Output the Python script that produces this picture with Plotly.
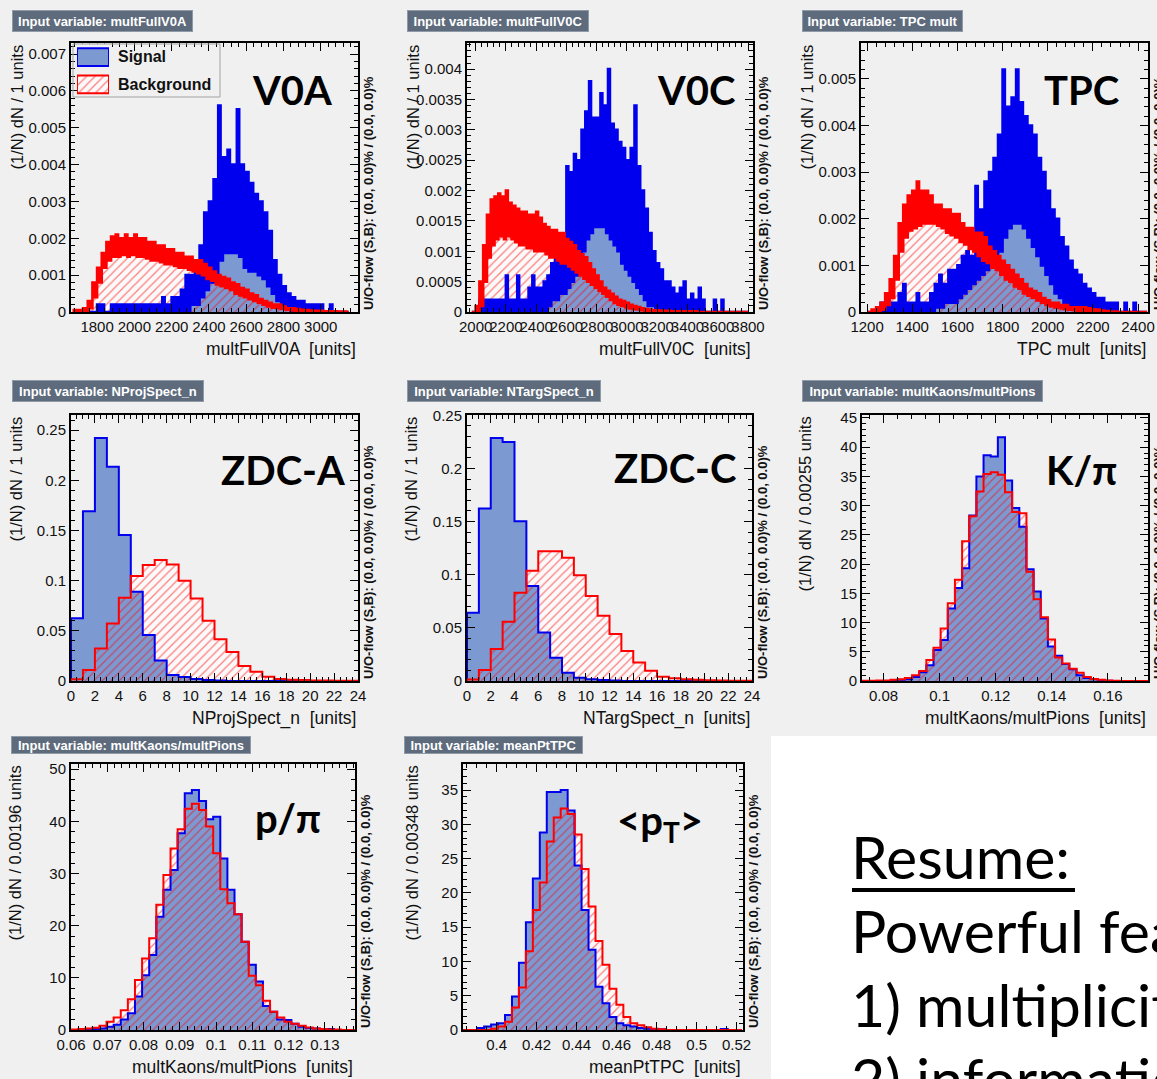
import numpy as np
import plotly.graph_objects as go

W, H = 1157, 1079

# ----------------------------------------------------------------------
# Fine-binned multiplicity inputs. Each cell stores the lowest and the
# highest bin content found inside it (values in units of 1e-4).
# ----------------------------------------------------------------------
v0a_x0, v0a_cell = 1675, 25
v0a_sig_max = [0, 0, 0, 0, 0, 2, 2, 0, 2, 2, 2, 2, 2, 2, 2, 2, 2, 2, 2, 4,
               2, 4, 4, 6, 10, 10, 14, 18, 27, 30, 36, 56, 42, 44, 40, 55, 40, 38, 35, 32,
               30, 27, 22, 14, 10, 7, 5, 4, 3, 3, 2, 2, 2, 2, 0, 2, 0, 0, 0]
v0a_sig_min = [0, 0, 0, 0, 0, 0, 0, 0, 0, 0, 0, 0, 0, 0, 0, 0, 0, 0, 0, 0,
               0, 0, 0, 0, 0, 2, 2, 4, 6, 8, 10, 14, 16, 16, 16, 15, 12, 11, 11, 10,
               9, 7, 5, 3, 2, 1, 0, 0, 0, 0, 0, 0, 0, 0, 0, 0, 0, 0, 0]
v0a_bkg_max = [0.5, 0.5, 1, 3, 8, 12, 16, 19, 20.5, 21, 20, 21, 20, 21, 20, 20, 19, 19, 18, 18,
               17, 17, 16, 16, 15, 15, 14, 14, 13, 12, 11, 10, 9.5, 9, 8, 7.5, 6.5, 6, 5, 4.5,
               3.5, 3, 2.5, 2, 2, 1.5, 1, 1, 0.8, 0.6, 0.5, 0.4, 0.3, 0.3, 0.2, 0.2, 0.2, 0.1, 0.1]
v0a_bkg_min = [0, 0, 0.3, 1, 4, 8, 12, 14, 15, 15, 15.5, 15, 15.5, 15, 15, 14.5, 14, 14, 13.5, 13,
               13, 12.5, 12, 12, 11.5, 11, 10.5, 10, 9, 8.5, 7.5, 7, 6.5, 6, 5, 4.5, 4, 3.5, 3, 2.5,
               2, 1.5, 1.2, 1, 0.8, 0.6, 0.4, 0.3, 0.2, 0.1, 0.1, 0, 0, 0, 0, 0, 0, 0, 0]

v0c_x0, v0c_cell = 1975, 25
v0c_sig_max = [0, 0, 2, 2, 2, 2, 2, 2, 2, 6, 2, 2, 6, 2, 2, 4, 6, 4, 4, 5,
               6, 8, 9, 10, 10, 24, 23, 26, 25, 30, 33, 38, 32, 32, 36, 34, 40, 31, 30, 28,
               27, 25, 27, 34, 24, 20, 17, 13, 10, 8, 7, 5, 5, 4, 3, 4, 5, 2, 3, 2,
               4, 2, 0, 0, 2, 0, 2, 0, 0, 0, 0, 0, 0]
v0c_sig_min = [0, 0, 0, 0, 0, 0, 0, 0, 0, 0, 0, 0, 0, 0, 0, 0, 0, 0, 0, 0,
               1, 2, 2, 3, 3, 4, 5, 6, 8, 10, 12, 13, 14, 14, 14, 13, 12, 11, 10, 8,
               7, 6, 5, 4, 3, 2, 1, 1, 0, 0, 0, 0, 0, 0, 0, 0, 0, 0, 0, 0,
               0, 0, 0, 0, 0, 0, 0, 0, 0, 0, 0, 0, 0]
v0c_bkg_max = [0, 1, 5, 11, 16, 18.5, 19, 19.5, 19, 20, 18, 17.5, 17, 16.5, 16.5, 16, 16, 16.5, 15.5, 14.5,
               14, 13.5, 13.5, 13, 13, 12, 11.5, 11, 10, 9.5, 9, 8, 7, 6, 5, 4, 3.5, 3, 2.5, 2,
               1.8, 1.5, 1.2, 1, 0.8, 0.6, 0.5, 0.4, 0.3, 0.3, 0.2, 0.2, 0.2, 0.1, 0.1, 0.1, 0.1, 0.1, 0.1, 0.1,
               0, 0, 0, 0, 0, 0, 0, 0, 0, 0, 0, 0, 0]
v0c_bkg_min = [0, 0, 1, 5, 9, 11, 12, 12.5, 12, 12.5, 12, 11.5, 11, 11, 10.5, 10.5, 10, 10, 10, 9.5,
               9, 9, 8.5, 8, 8, 7.5, 7, 6.5, 6, 5.5, 5, 4.5, 4, 3.5, 3, 2.5, 2, 1.5, 1.2, 1,
               0.8, 0.6, 0.5, 0.4, 0.3, 0.2, 0.2, 0.1, 0.1, 0, 0, 0, 0, 0, 0, 0, 0, 0, 0, 0,
               0, 0, 0, 0, 0, 0, 0, 0, 0, 0, 0, 0, 0]

tpc_x0, tpc_cell = 1200, 20
tpc_sig_max = [0, 0, 0, 2, 2, 2, 2, 4, 6, 2, 2, 4, 2, 2, 4, 6, 8, 6, 9, 9,
               10, 12, 13, 12, 27, 22, 28, 30, 33, 38, 52, 44, 46, 52, 45, 42, 40, 38, 33, 30,
               26, 22, 20, 16, 14, 11, 9, 8, 6, 5, 4, 3, 3, 2, 2, 2, 0, 2, 0, 2, 0, 0]
tpc_sig_min = [0, 0, 0, 0, 0, 0, 0, 0, 0, 0, 0, 0, 0, 0, 0, 1, 1, 2, 2, 2,
               3, 4, 5, 6, 7, 8, 9, 10, 11, 13, 16, 18, 19, 19, 18, 16, 14, 12, 10, 8,
               6, 4, 3, 2, 1, 1, 0, 0, 0, 0, 0, 0, 0, 0, 0, 0, 0, 0, 0, 0, 0, 0]
tpc_bkg_max = [0, 0.5, 1, 2, 4, 7, 12, 19, 23, 25, 26, 28, 26, 26, 25, 23, 23, 22, 22, 21,
               21, 19, 18, 18, 17, 17, 16, 14, 13, 12, 11, 10, 9, 8, 7, 6, 5, 4.5, 4, 3,
               2.5, 2, 2, 1.5, 1.5, 1, 1, 1, 1, 0.8, 0.6, 0.5, 0.3, 0.2, 0.1, 0.1, 0, 0, 0, 0, 0, 0]
tpc_bkg_min = [0, 0, 0.2, 0.5, 1.5, 3, 7, 13, 16, 17.5, 18, 18.5, 19, 19, 19, 18.5, 18, 17, 16.5, 16,
               15, 14.5, 13.5, 13, 12, 11, 10.5, 9.5, 9, 8, 7, 6.5, 5.5, 5, 4, 3.5, 3, 2.5, 2, 1.5,
               1.2, 1, 0.8, 0.6, 0.5, 0.4, 0.3, 0.2, 0.2, 0.1, 0.1, 0, 0, 0, 0, 0, 0, 0, 0, 0, 0, 0]

# ----------------------------------------------------------------------
# Coarse-binned inputs (normalised bin contents)
# ----------------------------------------------------------------------
zdca_x0, zdca_w = 0, 1
zdca_sig = [0.0624, 0.169, 0.242, 0.2135, 0.1454, 0.089, 0.0458, 0.0205, 0.006, 0.004, 0.002, 0.001,
            0.0005, 0, 0, 0, 0, 0, 0, 0, 0, 0, 0, 0]
zdca_bkg = [0.0017, 0.011, 0.0325, 0.0574, 0.083, 0.1046, 0.1155, 0.1205, 0.116, 0.0999, 0.0823, 0.060,
            0.0415, 0.029, 0.015, 0.0093, 0.0043, 0.002, 0.0013, 0.001, 0.0006, 0.0004, 0.0003, 0.0002]

zdcc_x0, zdcc_w = 0, 1
zdcc_sig = [0.0642, 0.1623, 0.2287, 0.225, 0.1504, 0.0893, 0.0457, 0.0219, 0.0078, 0.0031, 0.0016, 0.001,
            0.0005, 0, 0, 0, 0, 0, 0, 0, 0, 0, 0, 0]
zdcc_bkg = [0.0013, 0.0103, 0.030, 0.0558, 0.083, 0.1037, 0.1222, 0.1222, 0.1159, 0.0996, 0.0799, 0.0614,
            0.0442, 0.0282, 0.0175, 0.0097, 0.0041, 0.0025, 0.0016, 0.0012, 0.0008, 0.0005, 0.0003, 0.0002]

kpi_x0, kpi_w = 0.0723, 0.00255
kpi_sig = [0, 0, 0, 0, 0.1, 0.2, 0.3, 0.7, 1.5, 2.7, 5.3, 7.0, 12.4, 15.9, 19.3, 28.3, 35.0, 38.6, 38.4, 41.7,
           34.3, 29.6, 26.4, 19.1, 15.3, 10.7, 5.9, 4.3, 2.9, 2.0, 1.0, 0.5, 0.3, 0.1, 0.05, 0, 0, 0, 0, 0]
kpi_bkg = [0.05, 0.05, 0.1, 0.1, 0.2, 0.3, 0.5, 1.0, 1.7, 3.6, 5.7, 9.0, 13.3, 17.3, 23.9, 28.2, 32.4, 35.4, 35.7, 35.3,
           32.3, 28.9, 28.7, 18.7, 14.0, 10.9, 7.1, 4.0, 3.0, 2.1, 1.4, 0.7, 0.35, 0.2, 0.1, 0.05, 0, 0, 0, 0]

ppi_x0, ppi_w = 0.06, 0.00196
ppi_sig = [0, 0.05, 0.1, 0.2, 0.3, 0.6, 1.0, 2.0, 3.2, 6.4, 10.5, 14.4, 21.7, 26.9, 30.7, 37.7, 45.4, 46.0, 43.9, 40.4,
           40.9, 32.9, 26.9, 22.2, 16.9, 12.5, 9.3, 4.6, 3.5, 2.0, 1.9, 1.2, 0.6, 0.4, 0.3, 0.2, 0.2, 0, 0, 0]
ppi_bkg = [0.1, 0.2, 0.3, 0.45, 0.8, 1.6, 2.4, 3.8, 5.9, 9.6, 13.7, 17.6, 24.0, 29.7, 34.8, 38.5, 42.4, 43.4, 42.2, 39.0,
           33.9, 27.0, 24.3, 22.2, 16.9, 10.4, 8.6, 5.6, 3.5, 2.4, 1.6, 1.2, 0.8, 0.5, 0.3, 0.2, 0.1, 0.1, 0, 0]

mpt_x0, mpt_w = 0.38333, 0.00348
mpt_sig = [0, 0, 0.3, 0.5, 0.8, 1.0, 2.2, 4.9, 9.8, 15.7, 22.1, 28.8, 34.7, 34.7, 35.0, 32.0, 24.0, 17.5, 11.7, 6.3,
           3.9, 1.9, 1.0, 0.7, 0.5, 0.3, 0.2, 0.1, 0.1, 0, 0, 0, 0, 0, 0, 0, 0, 0.15, 0, 0]
mpt_bkg = [0, 0, 0, 0, 0.2, 0.5, 1.2, 3.3, 6.2, 11.5, 17.5, 21.5, 27.5, 31.0, 32.3, 31.5, 28.5, 23.5, 18.0, 13.0,
           9.5, 6.0, 3.7, 1.9, 1.0, 0.7, 0.4, 0.2, 0.1, 0, 0, 0, 0, 0, 0, 0, 0, 0, 0, 0]

# Axis ticks
v0a_xticks = [1800, 2000, 2200, 2400, 2600, 2800, 3000]
v0a_yticks = [0, 0.001, 0.002, 0.003, 0.004, 0.005, 0.006, 0.007]
v0c_xticks = [2000, 2200, 2400, 2600, 2800, 3000, 3200, 3400, 3600, 3800]
v0c_yticks = [0, 0.0005, 0.001, 0.0015, 0.002, 0.0025, 0.003, 0.0035, 0.004]
tpc_xticks = [1200, 1400, 1600, 1800, 2000, 2200, 2400]
tpc_yticks = [0, 0.001, 0.002, 0.003, 0.004, 0.005]
zdc_xticks = [0, 2, 4, 6, 8, 10, 12, 14, 16, 18, 20, 22, 24]
zdc_yticks = [0, 0.05, 0.1, 0.15, 0.2, 0.25]
kpi_xticks = [0.08, 0.1, 0.12, 0.14, 0.16]
kpi_yticks = [0, 5, 10, 15, 20, 25, 30, 35, 40, 45]
ppi_xticks = [0.06, 0.07, 0.08, 0.09, 0.1, 0.11, 0.12, 0.13]
ppi_yticks = [0, 10, 20, 30, 40, 50]
mpt_xticks = [0.4, 0.42, 0.44, 0.46, 0.48, 0.5, 0.52]
mpt_yticks = [0, 5, 10, 15, 20, 25, 30, 35]

# ----------------------------------------------------------------------
# Style
# ----------------------------------------------------------------------
FONT = "Liberation Sans, Arial, Helvetica, sans-serif"
BIGFONT = "Lato, Open Sans, sans-serif"
CANVAS = "#f0f0f0"
SIG_FILL = "#7d99d1"
SIG_LINE = "#0000ee"
BKG = "#ff0000"
HATCH_BG = "#fbf9f9"
TITLE_BOX = "#5d6b7d"
TITLE_BORDER = "#8f9aa8"
TXT = "#111111"
SP = " \u00a0"


def fine_hist(x0, cell, vmax, vmin, scale=1e-4):
    vmax = np.asarray(vmax, float) * scale
    vmin = np.asarray(vmin, float) * scale
    vals = np.empty(2 * len(vmax))
    vals[0::2] = vmax
    vals[1::2] = vmin
    edges = x0 + 0.5 * cell * np.arange(len(vals) + 1)
    return edges, vals


def coarse_hist(x0, width, vals):
    vals = np.asarray(vals, float)
    edges = x0 + width * np.arange(len(vals) + 1)
    return edges, vals


def step_xy(edges, vals):
    x = np.concatenate([[edges[0]], edges[:-1], [edges[-1], edges[-1]]])
    y = np.concatenate([[0.0], vals, [vals[-1], 0.0]])
    return x, y


def px(x):
    return x / W


def py(y):
    return 1 - y / H


panels = [
    dict(var="multFullV0A", label="<b>V0A</b>", frame=(71, 358, 43, 312), lw=2.6,
         sig=fine_hist(v0a_x0, v0a_cell, v0a_sig_max, v0a_sig_min),
         bkg=fine_hist(v0a_x0, v0a_cell, v0a_bkg_max, v0a_bkg_min),
         xr=[1660, 3200], yr=[0, 0.0073], xt=v0a_xticks, yt=v0a_yticks,
         xminor=(1800, 40), yminor=(0, 0.0002), ytitle="(1/N) dN / 1 units",
         box=(12, 10, 180, 20), ytx=16, lab=(292, 90)),
    dict(var="multFullV0C", label="<b>V0C</b>", frame=(467, 753, 43, 312), lw=2.6,
         sig=fine_hist(v0c_x0, v0c_cell, v0c_sig_max, v0c_sig_min),
         bkg=fine_hist(v0c_x0, v0c_cell, v0c_bkg_max, v0c_bkg_min),
         xr=[1943, 3833], yr=[0, 0.00443], xt=v0c_xticks, yt=v0c_yticks,
         xminor=(2000, 40), yminor=(0, 0.0001), ytitle="(1/N) dN / 1 units",
         box=(407, 10, 181, 20), ytx=412, lab=(696, 90)),
    dict(var="TPC mult", label="<b>TPC</b>", frame=(861, 1148, 43, 312), lw=2.6,
         sig=fine_hist(tpc_x0, tpc_cell, tpc_sig_max, tpc_sig_min),
         bkg=fine_hist(tpc_x0, tpc_cell, tpc_bkg_max, tpc_bkg_min),
         xr=[1173, 2444], yr=[0, 0.00577], xt=tpc_xticks, yt=tpc_yticks,
         xminor=(1200, 40), yminor=(0, 0.0002), ytitle="(1/N) dN / 1 units",
         box=(802, 10, 160, 20), ytx=806, lab=(1081, 90)),
    dict(var="NProjSpect_n", label="<b>ZDC-A</b>", frame=(71, 358, 415, 681), lw=2,
         sig=coarse_hist(zdca_x0, zdca_w, zdca_sig), bkg=coarse_hist(zdca_x0, zdca_w, zdca_bkg),
         xr=[0, 24], yr=[0, 0.265], xt=zdc_xticks, yt=zdc_yticks,
         xminor=(0, 0.5), yminor=(0, 0.01), ytitle="(1/N) dN / 1 units",
         box=(12, 380, 191, 20), ytx=16, lab=(283, 470)),
    dict(var="NTargSpect_n", label="<b>ZDC-C</b>", frame=(467, 752, 415, 681), lw=2,
         sig=coarse_hist(zdcc_x0, zdcc_w, zdcc_sig), bkg=coarse_hist(zdcc_x0, zdcc_w, zdcc_bkg),
         xr=[0, 24], yr=[0, 0.2503], xt=zdc_xticks, yt=zdc_yticks,
         xminor=(0, 0.5), yminor=(0, 0.01), ytitle="(1/N) dN / 1 units",
         box=(407, 380, 193, 20), ytx=411, lab=(675, 468)),
    dict(var="multKaons/multPions", label="<b>K/\u03c0</b>", frame=(862, 1148, 415, 681), lw=2,
         sig=coarse_hist(kpi_x0, kpi_w, kpi_sig), bkg=coarse_hist(kpi_x0, kpi_w, kpi_bkg),
         xr=[0.0723, 0.1743], yr=[0, 45.5], xt=kpi_xticks, yt=kpi_yticks,
         xminor=(0.08, 0.005), yminor=(0, 1), ytitle="(1/N) dN / 0.00255 units",
         box=(802, 380, 240, 20), ytx=805, lab=(1081, 470)),
    dict(var="multKaons/multPions", label="<b>p/\u03c0</b>", frame=(71, 355, 764, 1030), lw=2,
         sig=coarse_hist(ppi_x0, ppi_w, ppi_sig), bkg=coarse_hist(ppi_x0, ppi_w, ppi_bkg),
         xr=[0.06, 0.1383], yr=[0, 51], xt=ppi_xticks, yt=ppi_yticks,
         xminor=(0.06, 0.002), yminor=(0, 2), ytitle="(1/N) dN / 0.00196 units",
         box=(11, 736, 239, 16), ytx=14, lab=(288, 818)),
    dict(var="meanPtTPC", label="<b>&lt;p<sub>T</sub>&gt;</b>", frame=(463, 743, 764, 1030), lw=2,
         sig=coarse_hist(mpt_x0, mpt_w, mpt_sig), bkg=coarse_hist(mpt_x0, mpt_w, mpt_bkg),
         xr=[0.3832, 0.5232], yr=[0, 38.8], xt=mpt_xticks, yt=mpt_yticks,
         xminor=(0.4, 0.005), yminor=(0, 1), ytitle="(1/N) dN / 0.00348 units",
         box=(404, 736, 178, 16), ytx=411, lab=(660, 822)),
]

fig = go.Figure()
layout = dict(width=W, height=H, autosize=False,
              margin=dict(l=0, r=0, t=0, b=0, pad=0, autoexpand=False),
              paper_bgcolor=CANVAS, plot_bgcolor=CANVAS, showlegend=False,
              barmode="overlay")
annotations = []
shapes = []

for k, p in enumerate(panels, start=1):
    sfx = "" if k == 1 else str(k)
    xa, ya = "x" + sfx, "y" + sfx
    L, R, T, B = p["frame"]

    sx, sy = step_xy(*p["sig"])
    bx, by = step_xy(*p["bkg"])
    common = dict(xaxis=xa, yaxis=ya, mode="lines", showlegend=False, hoverinfo="skip")
    # background fill underlay, signal fill, background hatch, outlines
    fig.add_trace(go.Scatter(x=bx, y=by, fill="tozeroy", fillcolor=HATCH_BG,
                             line=dict(width=0, shape="hv"), **common))
    fig.add_trace(go.Scatter(x=sx, y=sy, fill="tozeroy", fillcolor=SIG_FILL,
                             line=dict(width=0, shape="hv"), **common))
    fig.add_trace(go.Scatter(x=bx, y=by, fill="tozeroy", fillcolor="rgba(0,0,0,0)",
                             fillpattern=dict(shape="/", fgcolor=BKG, bgcolor="rgba(0,0,0,0)",
                                              size=6, solidity=0.2),
                             line=dict(width=0, shape="hv"), **common))
    fig.add_trace(go.Scatter(x=sx, y=sy, line=dict(color=SIG_LINE, width=p["lw"], shape="hv"), **common))
    fig.add_trace(go.Scatter(x=bx, y=by, line=dict(color=BKG, width=p["lw"], shape="hv"), **common))

    base = dict(showline=True, linecolor="black", linewidth=2, mirror="allticks",
                ticks="inside", ticklen=8, tickwidth=1, tickcolor="black", automargin=False,
                showgrid=False, zeroline=False, fixedrange=True, tickangle=0,
                tickfont=dict(family=FONT, size=15, color=TXT))
    layout["xaxis" + sfx] = dict(base, domain=[px(L), px(R)], range=p["xr"], anchor=ya,
                                 tickmode="array", tickvals=p["xt"],
                                 ticktext=[f"{v:g}" for v in p["xt"]],
                                 minor=dict(ticks="inside", ticklen=4, tickwidth=1, tickcolor="black",
                                            tick0=p["xminor"][0], dtick=p["xminor"][1]))
    layout["yaxis" + sfx] = dict(base, domain=[py(B), py(T)], range=p["yr"], anchor=xa,
                                 tickmode="array", tickvals=p["yt"],
                                 ticktext=[f"{v:g}" for v in p["yt"]],
                                 minor=dict(ticks="inside", ticklen=4, tickwidth=1, tickcolor="black",
                                            tick0=p["yminor"][0], dtick=p["yminor"][1]))

    # title box
    bxl, bxt, bw, bh = p["box"]
    annotations.append(dict(text="<b>Input variable: " + p["var"] + "</b>", xref="paper", yref="paper",
                            x=px(bxl), y=py(bxt), xanchor="left", yanchor="top", showarrow=False,
                            width=bw - 1, height=bh, align="center", valign="middle",
                            bgcolor=TITLE_BOX, bordercolor=TITLE_BORDER, borderwidth=1, borderpad=0,
                            font=dict(family=FONT, size=13, color="white")))
    # axis titles
    annotations.append(dict(text=p["var"] + SP + "[units]", xref="paper", yref="paper",
                            x=px(R), y=py(B + 37), xanchor="right", yanchor="middle", showarrow=False,
                            font=dict(family=FONT, size=17.5, color=TXT)))
    annotations.append(dict(text=p["ytitle"], xref="paper", yref="paper", textangle=-90,
                            x=px(p["ytx"]), y=py(T), xanchor="center", yanchor="top", showarrow=False,
                            font=dict(family=FONT, size=16.5, color=TXT)))
    annotations.append(dict(text="<b>U/O-flow (S,B): (0.0, 0.0)% / (0.0, 0.0)%</b>", xref="paper",
                            yref="paper", textangle=-90, x=px(R + 10), y=py(B), xanchor="center",
                            yanchor="bottom", showarrow=False,
                            font=dict(family=FONT, size=13, color=TXT)))
    # detector label
    annotations.append(dict(text=p["label"], xref="paper", yref="paper", x=px(p["lab"][0]),
                            y=py(p["lab"][1]), xanchor="center", yanchor="middle", showarrow=False,
                            font=dict(family=BIGFONT, size=40, color="black")))

# legend in the first panel
layout["xaxis9"] = dict(domain=[px(77), px(109)], range=[0, 1], visible=False, fixedrange=True,
                        anchor="y9", automargin=False)
layout["yaxis9"] = dict(domain=[py(98), py(43.5)], range=[-0.5, 1.5], visible=False, fixedrange=True,
                        anchor="x9", automargin=False)
legend_names = ["Signal", "Background"]
fig.add_trace(go.Bar(x=[1], y=[1], orientation="h", width=0.66, base=0, xaxis="x9", yaxis="y9",
                     marker=dict(color=SIG_FILL, line=dict(color=SIG_LINE, width=2)),
                     cliponaxis=False, hoverinfo="skip", showlegend=False))
fig.add_trace(go.Bar(x=[1], y=[0], orientation="h", width=0.66, base=0, xaxis="x9", yaxis="y9",
                     marker=dict(color=HATCH_BG, line=dict(color=BKG, width=2),
                                 pattern=dict(shape="/", fgcolor=BKG, bgcolor=HATCH_BG, size=6, solidity=0.2)),
                     cliponaxis=False, hoverinfo="skip", showlegend=False))
for name, yc in zip(legend_names, [57, 84]):
    annotations.append(dict(text="<b>" + name + "</b>", xref="paper", yref="paper", x=px(116),
                            y=py(yc), xanchor="left", yanchor="middle", showarrow=False,
                            font=dict(family=FONT, size=16, color=TXT)))
shapes.append(dict(type="rect", xref="paper", yref="paper", x0=px(73), x1=px(220), y0=py(97), y1=py(44),
                   line=dict(color="#a3a3a3", width=1), fillcolor="rgba(0,0,0,0)", layer="above"))

# summary text block
shapes.append(dict(type="rect", xref="paper", yref="paper", x0=px(771), x1=px(W + 5), y0=py(H + 5),
                   y1=py(736), line=dict(width=0), fillcolor="white", layer="below"))
summary_lines = ["Resume:", "Powerful features", "1) multiplicity", "2) information"]
for txt, yc in zip(summary_lines, [856, 930, 1004, 1078]):
    annotations.append(dict(text=txt, xref="paper", yref="paper", x=px(849), y=py(yc),
                            xanchor="left", yanchor="middle", showarrow=False,
                            font=dict(family=BIGFONT, size=59, color="black")))
shapes.append(dict(type="line", xref="paper", yref="paper", x0=px(852), x1=px(1075), y0=py(890),
                   y1=py(890), line=dict(color="black", width=4)))

layout["annotations"] = annotations
layout["shapes"] = shapes
fig.update_layout(**layout)
fig.write_html("out.html")
